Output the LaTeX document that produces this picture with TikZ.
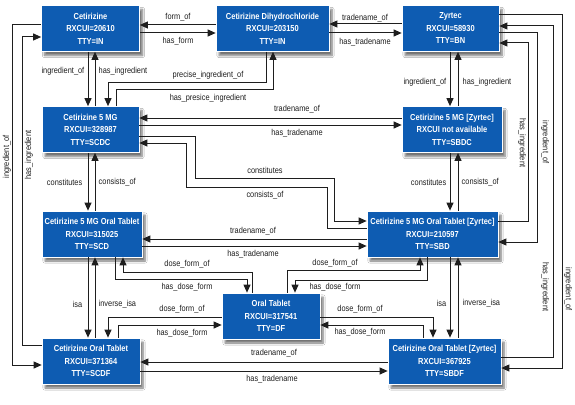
\documentclass[tikz,border=0pt]{standalone}
\usepackage{fontspec}
\setmainfont[FakeStretch=0.86]{Liberation Sans}
\usetikzlibrary{arrows.meta,shadows.blur}
\definecolor{rxblue}{RGB}{14,92,178}
\definecolor{rxline}{RGB}{30,30,30}

\begin{document}
\begin{tikzpicture}[x=1pt,y=-1pt,
	concept/.style={draw=white, line width=0.7pt, fill=rxblue, text=white, align=center,
		font=\fontsize{8.7}{12.5}\selectfont\bfseries, minimum height=46pt, inner sep=1pt,
		blur shadow={shadow xshift=3pt, shadow yshift=-4pt, shadow blur steps=6, shadow opacity=55}},
	rel/.style={font=\fontsize{8.6}{10}\selectfont, inner sep=0.5pt, text=rxline},
	link/.style={draw=rxline, line width=1pt},
	arr/.style={link, -{Triangle[length=8pt,width=7pt]}}]
		\fill[white] (0,0) rectangle (575,404);
		\useasboundingbox (0,0) rectangle (575,404);

		\node[concept, minimum width=98pt] (ceti) at (90.5,28.5) {Cetirizine\\RXCUI=20610\\TTY=IN};
		\node[concept, minimum width=113pt] (dihy) at (272.5,28.5) {Cetirizine Dihydrochloride\\RXCUI=203150\\TTY=IN};
		\node[concept, minimum width=97pt] (zyr) at (450.5,28.5) {Zyrtec\\RXCUI=58930\\TTY=BN};
		\node[concept, minimum width=97pt] (scdc) at (90.5,129.5) {Cetirizine 5 MG\\RXCUI=328987\\TTY=SCDC};
		\node[concept, minimum width=100pt] (sbdc) at (452,129.5) {Cetirizine 5 MG [Zyrtec]\\RXCUI not available\\TTY=SBDC};
		\node[concept, minimum width=100pt] (scd) at (92,234) {Cetirizine 5 MG Oral Tablet\\RXCUI=315025\\TTY=SCD};
		\node[concept, minimum width=131pt] (sbd) at (432.5,234) {Cetirizine 5 MG Oral Tablet [Zyrtec]\\RXCUI=210597\\TTY=SBD};
		\node[concept, minimum width=98pt] (df) at (271,316) {Oral Tablet\\RXCUI=317541\\TTY=DF};
		\node[concept, minimum width=98pt] (scdf) at (91,361) {Cetirizine Oral Tablet\\RXCUI=371364\\TTY=SCDF};
		\node[concept, minimum width=113pt] (sbdf) at (444.5,361) {Cetirizine Oral Tablet [Zyrtec]\\RXCUI=367925\\TTY=SBDF};

		% top row
		\draw[arr] ([yshift=3.5pt]dihy.west) -- ([yshift=3.5pt]ceti.east);
		\draw[arr] ([yshift=-4.5pt]ceti.east) -- ([yshift=-4.5pt]dihy.west);
		\draw[arr] ([yshift=4.5pt]zyr.west) -- ([yshift=4.5pt]dihy.east);
		\draw[arr] ([yshift=-4.5pt]dihy.east) -- ([yshift=-4.5pt]zyr.west);
		\node[rel] (fo) at (178,17) {form\_of};
		\node[rel] (hf) at (178,41) {has\_form};
		\node[rel] (tno1) at (365,18) {tradename\_of};
		\node[rel] (htn1) at (365,42) {has\_tradename};

		% ingredients to components
		\draw[arr] ([xshift=-2.5pt]ceti.south) -- ([xshift=-2.5pt]scdc.north);
		\draw[arr] ([xshift=4.5pt]scdc.north) -- ([xshift=4.5pt]ceti.south);
		\node[rel, anchor=east] (ingo1) at (85,71) {ingredient\_of};
		\node[rel, anchor=west] (hing1) at (98,71) {has\_ingredient};
		\draw[arr] ([xshift=-6.5pt]dihy.south) -- ++(0,30.5) -| ([xshift=17.5pt]scdc.north);
		\draw[arr] ([xshift=25.5pt]scdc.north) -- ++(0,-16.5) -| ([xshift=0.5pt]dihy.south);
		\node[rel] (pio) at (208,75) {precise\_ingredient\_of};
		\node[rel] (hpi) at (208,98) {has\_presice\_ingredient};
		\draw[arr] ([xshift=-0.5pt]zyr.south) -- ([xshift=-2pt]sbdc.north);
		\draw[arr] ([xshift=6pt]sbdc.north) -- ([xshift=7.5pt]zyr.south);
		\node[rel, anchor=east] (ingo2) at (447,82) {ingredient\_of};
		\node[rel, anchor=west] (hing2) at (462,82) {has\_ingredient};

		% components
		\draw[arr] ([yshift=11.5pt]sbdc.west) -- ([yshift=11.5pt]scdc.east);
		\draw[arr] ([yshift=4.5pt]scdc.east) -- ([yshift=4.5pt]sbdc.west);
		\node[rel] (tno2) at (297,109) {tradename\_of};
		\node[rel] (htn2) at (297,133) {has\_tradename};
		\draw[arr] ([yshift=-6.5pt]scdc.east) -- ++(56,0) -- ++(0,42) -- ++(139,0) |- ([yshift=13pt]sbd.west);
		\draw[arr] ([yshift=6pt]sbd.west) -- ++(-39,0) -- ++(0,-41) -- ++(-141,0) |- ([yshift=-13.5pt]scdc.east);
		\node[rel] (cons1) at (265,170) {constitutes};
		\node[rel] (cof1) at (265,195) {consists\_of};
		\draw[arr] ([xshift=-2.5pt]scdc.south) -- ([xshift=-4pt]scd.north);
		\draw[arr] ([xshift=3pt]scd.north) -- ([xshift=4.5pt]scdc.south);
		\node[rel, anchor=east] (cons2) at (83,182) {constitutes};
		\node[rel, anchor=west] (cof2) at (98,182) {consists\_of};
		\draw[arr] ([xshift=-2pt]sbdc.south) -- ([xshift=17.5pt]sbd.north);
		\draw[arr] ([xshift=25.5pt]sbd.north) -- ([xshift=6pt]sbdc.south);
		\node[rel, anchor=east] (cons3) at (447,182) {constitutes};
		\node[rel, anchor=west] (cof3) at (461,182) {consists\_of};

		% drugs and dose form
		\draw[arr] ([yshift=-5pt]sbd.west) -- ([yshift=-5pt]scd.east);
		\draw[arr] ([yshift=-12pt]scd.east) -- ([yshift=-12pt]sbd.west);
		\node[rel] (tno3) at (253,231) {tradename\_of};
		\node[rel] (htn3) at (253,254) {has\_tradename};
		\draw[arr] ([xshift=-19pt]df.north) -- ++(0,-20) -| ([xshift=31pt]scd.south);
		\draw[arr] ([xshift=23pt]scd.south) -- ++(0,22) -| ([xshift=-24pt]df.north);
		\node[rel] (dfo1) at (187,264) {dose\_form\_of};
		\node[rel] (hdf1) at (187,287) {has\_dose\_form};
		\draw[arr] ([xshift=16pt]df.north) -- ++(0,-22) -| ([xshift=-12.5pt]sbd.south);
		\draw[arr] ([xshift=-5.5pt]sbd.south) -- ++(0,23) -| ([xshift=24pt]df.north);
		\node[rel] (dfo2) at (335,263) {dose\_form\_of};
		\node[rel] (hdf2) at (335,287) {has\_dose\_form};
		\draw[arr] ([xshift=-4pt]scd.south) -- ([xshift=-3pt]scdf.north);
		\draw[arr] ([xshift=4pt]scdf.north) -- ([xshift=3pt]scd.south);
		\node[rel, anchor=east] (isa1) at (83,304) {isa};
		\node[rel, anchor=west] (iisa1) at (98,304) {inverse\_isa};
		\draw[arr] ([xshift=17.5pt]sbd.south) -- ([xshift=5.5pt]sbdf.north);
		\draw[arr] ([xshift=13.5pt]sbdf.north) -- ([xshift=25.5pt]sbd.south);
		\node[rel, anchor=east] (isa2) at (447,303) {isa};
		\node[rel, anchor=west] (iisa2) at (462,303) {inverse\_isa};
		\draw[arr] ([yshift=-1pt]df.west) -| ([xshift=17pt]scdf.north);
		\draw[arr] ([xshift=27pt]scdf.north) |- ([yshift=-9pt]df.west);
		\node[rel] (dfo3) at (182,309) {dose\_form\_of};
		\node[rel] (hdf3) at (182,333) {has\_dose\_form};
		\draw[arr] ([yshift=-1pt]df.east) -| ([xshift=-11.5pt]sbdf.north);
		\draw[arr] ([xshift=-21.5pt]sbdf.north) |- ([yshift=-9pt]df.east);
		\node[rel] (dfo4) at (360,309) {dose\_form\_of};
		\node[rel] (hdf4) at (360,332) {has\_dose\_form};
		\draw[arr] ([yshift=-1pt]sbdf.west) -- ([yshift=-1pt]scdf.east);
		\draw[arr] ([yshift=-10pt]scdf.east) -- ([yshift=-10pt]sbdf.west);
		\node[rel] (tno4) at (274,353) {tradename\_of};
		\node[rel] (htn4) at (272,379) {has\_tradename};

		% long ingredient links
		\draw[arr] ([yshift=3.5pt]ceti.west) -- ++(-28.5,0) |- ([yshift=-4pt]scdf.west);
		\draw[arr] ([yshift=16pt]scdf.west) -- ++(-19,0) |- ([yshift=-8.5pt]ceti.west);
		\node[rel, rotate=90] (ingo3) at (7,157) {ingredient\_of};
		\node[rel, rotate=90] (hing3) at (29,155) {has\_ingredient};
		\draw[arr] ([yshift=13pt]sbd.east) -- ++(30,0) |- ([yshift=-14.5pt]zyr.east);
		\draw[arr] ([yshift=-4.5pt]zyr.east) -- ++(38,0) |- ([yshift=-8pt]sbd.east);
		\draw[arr] ([yshift=4pt]sbdf.east) -- ++(52,0) |- ([yshift=2.5pt]zyr.east);
		\draw[arr] ([yshift=13.5pt]zyr.east) -- ++(63,0) |- ([yshift=-7pt]sbdf.east);
		\node[rel, rotate=-90] (hing4) at (522,143) {has\_ingredient};
		\node[rel, rotate=-90] (ingo4) at (545,142) {ingredient\_of};
		\node[rel, rotate=-90] (hing5) at (545,287) {has\_ingredient};
		\node[rel, rotate=-90] (ingo5) at (568,289) {ingredient\_of};
	\end{tikzpicture}
\end{document}
